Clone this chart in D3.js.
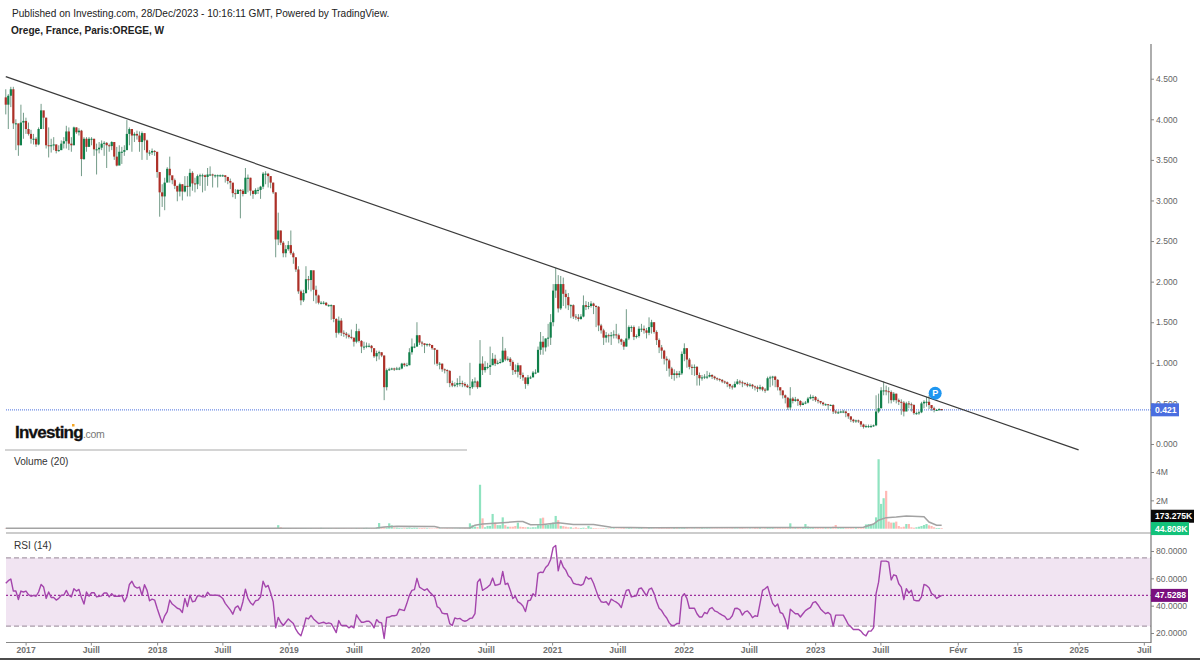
<!DOCTYPE html>
<html>
<head>
<meta charset="utf-8">
<title>Orege weekly</title>
<script src="https://d3js.org/d3.v7.min.js"></script>
<style>
html, body { margin: 0; padding: 0; background: #fff; }
svg { display: block; font-family: "Liberation Sans", Arial, sans-serif; }
.tick text { fill: #666; font-size: 8.6px; }
</style>
</head>
<body>
<svg id="chart" width="1200" height="660"></svg>
<script>
// weekly bars
var firstWeek = new Date( 2016, 10, 7 );
var firstOpen = 4.27;

var closes = [
	4.18,4.29,4.37,3.95,3.95,3.68,3.96,3.98,3.88,3.82,
	3.76,3.76,3.69,3.88,4.11,4.02,3.68,3.67,3.68,3.69,
	3.61,3.62,3.70,3.73,3.85,3.70,3.68,3.90,3.84,3.86,
	3.51,3.76,3.66,3.76,3.76,3.63,3.63,3.65,3.70,3.71,
	3.68,3.67,3.72,3.54,3.43,3.60,3.60,3.62,3.82,3.88,
	3.80,3.82,3.80,3.72,3.83,3.74,3.59,3.59,3.61,3.60,
	3.35,3.10,3.05,3.22,3.39,3.31,3.25,3.18,3.11,3.20,
	3.11,3.18,3.17,3.34,3.21,3.20,3.30,3.31,3.31,3.29,
	3.32,3.32,3.31,3.31,3.31,3.31,3.31,3.29,3.24,3.22,
	3.09,3.08,3.13,3.12,3.08,3.28,3.28,3.12,3.08,3.13,
	3.13,3.17,3.33,3.33,3.30,3.22,3.10,
	2.52,2.63,2.48,2.35,2.40,2.45,2.35,2.30,2.15,1.88,
	1.77,1.86,2.03,2.02,2.14,1.90,1.83,1.74,1.74,1.74,
	1.71,1.71,1.71,1.54,1.37,1.52,1.37,1.36,1.34,1.32,
	1.31,1.26,1.39,1.27,1.20,1.20,1.21,1.21,1.18,1.08,
	1.12,1.13,1.09,0.70,0.91,0.92,0.93,0.92,0.93,0.93,0.99,
	0.97,0.97,1.13,1.20,1.20,1.34,1.25,1.24,1.22,1.23,
	1.22,1.18,1.16,0.99,0.99,0.92,0.91,0.90,0.75,0.72,0.73,
	0.75,0.75,0.74,0.72,0.70,0.70,0.77,0.77,0.70,0.99,
	0.91,0.95,0.95,0.97,1.05,0.99,1.00,1.01,1.15,1.04,
	1.05,1.01,0.91,0.89,0.97,0.85,0.82,0.74,0.82,0.82,0.88,
	0.88,1.16,1.26,1.19,1.30,1.31,1.50,1.89,1.97,
	1.67,1.97,1.85,1.81,1.71,1.71,1.57,1.56,1.54,1.57,
	1.71,1.69,1.70,1.73,1.70,1.69,1.46,1.40,1.31,1.34,
	1.33,1.34,1.35,1.34,1.29,1.26,1.20,1.30,1.44,1.44,
	1.32,1.33,1.42,1.42,1.40,1.37,1.44,1.50,1.38,1.28,
	1.19,1.15,1.05,1.03,0.93,0.85,0.87,0.85,0.87,1.11,
	1.18,1.04,0.95,0.94,0.95,0.85,0.81,0.82,0.83,0.83,
	0.85,0.83,0.81,0.80,0.79,0.77,0.76,0.74,0.71,0.70,
	0.74,0.77,0.76,0.75,0.74,0.72,0.73,0.71,0.70,0.68,
	0.70,0.67,0.66,0.81,0.82,0.83,0.79,0.70,
	0.66,0.60,0.57,0.45,0.56,0.53,0.55,0.53,0.48,0.50,
	0.51,0.56,0.58,0.58,0.54,0.53,0.51,0.49,0.49,0.48,0.48,
	0.40,0.39,0.39,0.40,0.40,0.38,0.34,0.30,0.28,0.29,
	0.28,0.24,0.21,0.22,0.22,0.22,0.23,0.40,0.44,0.66,0.66,
	0.65,0.64,0.54,0.62,0.54,0.52,0.51,0.40,0.50,0.49,
	0.48,0.38,0.38,0.39,0.50,0.52,0.52,0.48,0.44,0.42,
	0.42,0.43,0.421
];

var highs = [
	4.37,4.31,4.40,4.40,4.00,3.82,4.18,4.08,4.02,3.96,
	3.87,3.82,3.78,3.90,4.19,4.08,4.02,3.90,3.76,3.78,
	3.69,3.68,3.74,3.78,3.92,3.90,3.78,3.91,3.90,3.89,
	3.87,3.78,3.78,3.78,3.78,3.76,3.70,3.72,3.74,3.73,
	3.72,3.70,3.73,3.71,3.66,3.68,3.66,3.68,3.99,3.90,
	3.88,3.84,3.86,3.85,3.85,3.76,3.75,3.62,3.64,3.62,
	3.58,3.32,3.20,3.28,3.41,3.54,3.28,3.27,3.18,3.22,
	3.20,3.30,3.30,3.39,3.36,3.28,3.32,3.33,3.33,3.32,
	3.40,3.42,3.33,3.32,3.32,3.32,3.32,3.31,3.29,3.27,
	3.20,3.14,3.14,3.14,3.14,3.40,3.32,3.28,3.12,3.15,
	3.16,3.18,3.35,3.36,3.34,3.30,3.22,
	3.10,2.85,2.63,2.50,2.45,2.50,2.63,2.37,2.30,2.19,
	1.90,1.90,2.19,2.07,2.14,2.05,1.95,1.84,1.76,1.76,
	1.75,1.72,1.72,1.71,1.55,1.57,1.55,1.40,1.38,1.36,
	1.41,1.31,1.48,1.42,1.28,1.26,1.25,1.24,1.22,1.18,
	1.15,1.15,1.13,1.09,0.93,0.94,0.94,0.94,0.95,0.95,1.00,
	1.00,1.00,1.18,1.30,1.24,1.50,1.34,1.27,1.24,1.24,
	1.24,1.22,1.18,1.16,1.01,0.99,0.93,0.92,0.91,0.78,0.76,
	0.81,0.84,0.78,0.76,0.74,1.00,0.80,0.82,0.78,1.28,
	1.08,1.02,1.00,1.20,1.12,1.10,1.03,1.05,1.32,1.18,
	1.08,1.07,1.03,0.98,1.00,0.95,0.88,0.82,0.85,0.84,0.90,
	0.92,1.20,1.38,1.33,1.30,1.48,1.60,1.97,2.17,
	2.08,2.07,2.05,1.90,1.86,1.72,1.72,1.60,1.60,1.60,
	1.83,1.76,1.75,1.76,1.74,1.71,1.70,1.48,1.42,1.38,
	1.36,1.38,1.40,1.48,1.36,1.30,1.28,1.66,1.46,1.46,
	1.46,1.35,1.45,1.48,1.46,1.43,1.56,1.53,1.50,1.40,
	1.30,1.22,1.16,1.08,1.05,0.95,0.92,0.90,0.90,1.14,
	1.24,1.18,1.06,0.98,0.98,0.96,0.88,0.85,0.86,0.90,
	0.88,0.86,0.84,0.82,0.81,0.80,0.78,0.77,0.74,0.73,
	0.77,0.80,0.79,0.78,0.76,0.76,0.75,0.74,0.72,0.72,
	0.73,0.71,0.69,0.83,0.84,0.84,0.84,0.80,
	0.68,0.66,0.61,0.58,0.70,0.58,0.58,0.56,0.54,0.52,
	0.53,0.58,0.61,0.60,0.59,0.56,0.53,0.52,0.50,0.49,0.49,
	0.49,0.42,0.41,0.41,0.42,0.41,0.38,0.34,0.31,0.30,
	0.30,0.28,0.25,0.24,0.24,0.24,0.24,0.60,0.62,0.70,0.77,
	0.72,0.70,0.66,0.64,0.62,0.56,0.55,0.53,0.52,0.53,
	0.51,0.49,0.40,0.41,0.52,0.54,0.58,0.60,0.48,0.46,
	0.43,0.44,0.43
];

var lows = [
	4.06,3.88,4.15,3.88,3.62,3.55,3.68,3.76,3.82,3.80,
	3.70,3.69,3.66,3.68,3.94,3.88,3.64,3.53,3.59,3.62,
	3.58,3.60,3.62,3.64,3.64,3.62,3.60,3.68,3.82,3.80,
	3.30,3.50,3.60,3.70,3.68,3.55,3.32,3.58,3.62,3.55,
	3.40,3.60,3.62,3.50,3.42,3.45,3.45,3.55,3.62,3.68,
	3.60,3.72,3.75,3.60,3.50,3.62,3.50,3.55,3.56,3.55,
	3.28,2.80,2.92,2.88,3.28,3.22,3.20,3.14,2.99,3.05,
	3.00,3.10,3.05,3.05,3.12,3.10,3.14,3.18,3.10,3.12,
	3.18,3.30,3.16,3.28,3.16,3.29,3.29,3.22,3.20,3.14,
	3.04,3.02,3.08,2.78,3.05,3.10,3.10,3.06,3.02,3.07,
	3.08,3.02,3.14,3.20,3.16,3.15,3.08,
	2.30,2.45,2.45,2.30,2.30,2.38,2.33,2.22,2.12,1.85,
	1.71,1.75,1.85,1.90,1.88,1.76,1.73,1.72,1.72,1.72,
	1.70,1.69,1.53,1.50,1.31,1.35,1.33,1.32,1.30,1.30,
	1.29,1.20,1.24,1.25,1.12,1.16,1.18,1.19,1.13,1.06,
	1.02,1.04,1.07,0.54,0.66,0.90,0.91,0.90,0.91,0.91,0.92,
	0.95,0.96,0.97,1.10,1.18,1.20,1.22,1.20,1.12,1.20,
	1.20,1.16,0.98,0.96,0.92,0.89,0.87,0.75,0.70,0.70,0.70,
	0.70,0.71,0.70,0.70,0.69,0.60,0.68,0.70,0.68,0.70,
	0.85,0.88,0.92,0.85,0.98,0.96,0.98,0.99,1.00,1.02,
	1.02,0.96,0.85,0.86,0.82,0.80,0.78,0.68,0.72,0.80,0.84,
	0.86,0.88,1.10,1.10,1.14,1.20,1.22,1.45,1.80,
	1.62,1.65,1.70,1.67,1.65,1.55,1.54,1.53,1.51,1.53,
	1.56,1.65,1.66,1.68,1.60,1.44,1.39,1.36,1.22,1.25,
	1.25,1.22,1.30,1.30,1.24,1.22,1.16,1.20,1.28,1.38,
	1.28,1.30,1.31,1.38,1.36,1.30,1.34,1.36,1.36,1.22,
	1.12,1.05,0.98,0.90,0.83,0.80,0.78,0.81,0.82,0.85,
	1.02,0.94,0.92,0.85,0.84,0.72,0.72,0.78,0.80,0.80,
	0.82,0.80,0.79,0.78,0.77,0.75,0.74,0.70,0.68,0.67,
	0.69,0.73,0.73,0.70,0.72,0.70,0.70,0.68,0.66,0.64,
	0.66,0.65,0.63,0.66,0.70,0.72,0.70,0.66,
	0.60,0.56,0.50,0.42,0.42,0.50,0.52,0.47,0.46,0.48,
	0.49,0.50,0.55,0.53,0.52,0.50,0.49,0.47,0.47,0.42,0.47,
	0.37,0.37,0.37,0.38,0.38,0.33,0.31,0.27,0.26,0.26,
	0.26,0.21,0.19,0.20,0.20,0.20,0.21,0.22,0.38,0.44,0.60,
	0.60,0.50,0.50,0.52,0.50,0.48,0.36,0.34,0.44,0.44,
	0.40,0.36,0.36,0.36,0.38,0.44,0.46,0.43,0.41,0.39,
	0.41,0.41,0.41
];

// weekly volume in millions
var volumes = [
	0.03,0.04,0.03,0.05,0.03,0.04,0.03,0.02,0.03,0.02,
	0.03,0.02,0.02,0.03,0.05,0.03,0.03,0.02,0.02,0.03,
	0.02,0.03,0.02,0.02,0.04,0.03,0.02,0.03,0.02,0.02,
	0.03,0.02,0.03,0.02,0.02,0.02,0.03,0.02,0.02,0.02,
	0.03,0.02,0.02,0.03,0.04,0.02,0.02,0.02,0.03,0.04,
	0.03,0.02,0.02,0.03,0.02,0.02,0.03,0.02,0.02,0.02,
	0.04,0.05,0.04,0.04,0.03,0.03,0.02,0.02,0.03,0.02,
	0.03,0.02,0.03,0.03,0.02,0.02,0.02,0.02,0.02,0.02,
	0.03,0.02,0.02,0.02,0.02,0.02,0.02,0.03,0.02,0.03,
	0.03,0.02,0.03,0.04,0.02,0.05,0.03,0.03,0.02,0.02,
	0.02,0.03,0.05,0.03,0.03,0.04,0.05,0.06,0.25,0.10,
	0.05,0.04,0.04,0.05,0.03,0.04,0.03,0.05,0.04,0.04,
	0.03,0.04,0.03,0.03,0.05,0.06,0.04,0.03,0.04,0.03,
	0.03,0.05,0.04,0.03,0.04,0.03,0.03,0.04,0.03,0.05,
	0.05,0.04,0.05,0.06,0.04,0.05,0.05,0.08,0.40,0.06,
	0.10,0.08,0.38,0.24,0.08,0.07,0.05,0.04,0.06,0.06,
	0.08,0.05,0.07,0.06,0.05,0.05,0.06,0.04,0.04,0.03,
	0.03,0.04,0.03,0.03,0.03,0.04,0.03,0.03,0.02,0.02,
	0.03,0.03,0.04,0.03,0.38,0.25,0.15,0.12,3.10,0.73,
	0.10,0.20,0.20,1.04,0.43,0.25,0.25,0.80,0.25,0.14,
	0.14,0.14,0.19,0.43,0.14,0.12,0.10,0.10,0.08,0.10,
	0.10,0.25,0.73,0.78,0.33,0.28,0.33,0.43,0.90,0.60,
	0.20,0.18,0.14,0.10,0.10,0.06,0.10,0.06,0.05,0.07,
	0.05,0.20,0.08,0.05,0.04,0.03,0.03,0.04,0.03,0.03,
	0.03,0.04,0.03,0.03,0.04,0.05,0.03,0.05,0.04,0.03,
	0.03,0.04,0.05,0.03,0.03,0.04,0.03,0.03,0.03,0.04,
	0.05,0.04,0.05,0.05,0.04,0.08,0.05,0.04,0.04,0.05,
	0.04,0.03,0.03,0.03,0.03,0.04,0.04,0.03,0.03,0.03,
	0.03,0.03,0.03,0.03,0.03,0.03,0.03,0.03,0.04,0.03,
	0.03,0.04,0.05,0.03,0.03,0.03,0.03,0.05,0.06,0.05,
	0.03,0.04,0.05,0.04,0.06,0.04,0.05,0.06,0.08,0.07,
	0.07,0.38,0.12,0.08,0.06,0.06,0.07,0.33,0.15,0.08,
	0.06,0.05,0.06,0.05,0.06,0.07,0.09,0.10,0.14,0.26,
	0.12,0.10,0.09,0.08,0.08,0.08,0.07,0.07,0.08,0.09,
	0.10,0.30,0.33,0.33,0.33,0.80,4.90,1.75,2.15,2.67,
	0.50,0.43,0.43,0.50,0.19,0.10,0.14,0.33,0.33,0.10,
	0.07,0.10,0.14,0.19,0.26,0.33,0.24,0.19,0.10,0.05,
	0.05,0.05
];

// grey 20-week average, only where it turns
var maWeeks  = [ 0, 100, 147, 150, 155, 170, 172, 184, 186, 189, 197, 203, 205, 208, 213, 219, 225, 233, 240, 255, 340, 344, 346, 349, 353, 357, 364, 366, 369, 371 ];
var maValues = [ 0.04, 0.04, 0.05, 0.12, 0.17, 0.16, 0.07, 0.05, 0.25, 0.33, 0.42, 0.50, 0.50, 0.28, 0.30, 0.42, 0.30, 0.30, 0.10, 0.06, 0.10, 0.33, 0.60, 0.78, 0.83, 0.90, 0.85, 0.47, 0.24, 0.24 ];

var rsi = [
	56.4,58.3,59.5,50.7,50.7,44.5,50.7,50.0,50.7,48.1,
	46.9,47.6,46.9,50.0,55.5,53.6,45.3,50.0,46.0,46.0,
	44.1,45.3,47.6,47.6,51.2,47.6,46.4,52.4,50.7,51.9,
	46.0,41.2,50.0,46.9,49.5,49.5,46.4,46.9,47.2,49.3,
	49.3,46.4,48.8,46.9,46.9,46.9,47.6,42.9,46.4,55.5,
	57.9,54.1,52.9,53.6,47.6,55.3,51.2,43.6,44.8,44.1,
	38.1,32.6,27.4,32.6,35.7,44.1,41.2,39.8,38.1,37.4,
	35.0,45.3,39.3,47.6,42.9,43.3,47.2,47.2,46.4,46.4,
	49.8,47.6,47.6,47.6,47.6,46.9,45.3,41.7,39.3,36.9,
	33.8,38.6,39.8,36.4,42.9,52.1,45.3,42.2,40.5,43.6,
	44.1,46.4,57.9,53.6,54.8,49.3,42.9,23.8,31.4,27.9,
	25.5,27.9,30.3,28.6,26.9,22.6,19.8,17.9,23.8,31.0,
	30.3,32.9,30.3,28.6,26.9,27.4,27.9,26.9,27.4,26.9,
	23.8,20.3,29.1,25.5,25.5,25.5,23.8,25.0,23.8,33.3,
	30.3,27.9,27.9,28.6,28.6,26.9,23.8,29.8,27.9,27.4,
	16.0,31.4,31.7,32.6,32.6,33.1,37.4,36.9,36.4,41.7,
	47.6,51.2,51.7,60.0,53.6,52.4,51.2,52.4,50.0,48.1,
	46.4,39.3,38.1,34.5,34.1,34.1,26.9,25.5,31.0,30.3,
	30.7,29.3,28.6,29.3,30.7,31.0,34.1,57.2,59.5,51.2,
	52.4,53.6,55.3,60.2,54.8,55.3,56.0,65.0,55.5,56.4,
	51.2,45.3,46.9,42.9,41.7,39.8,35.7,43.6,44.1,48.8,
	46.9,63.6,64.5,64.3,67.9,69.8,73.8,82.6,84.0,65.5,
	73.1,68.3,66.0,61.9,60.2,56.4,55.7,55.5,54.8,56.0,
	61.2,59.5,60.2,56.4,51.2,46.0,42.9,42.4,42.9,40.5,
	44.8,43.6,42.6,41.2,38.6,45.3,51.2,51.7,46.4,46.9,
	47.2,52.4,52.9,50.0,47.2,51.9,52.9,48.8,42.9,38.1,
	36.4,33.3,31.0,27.4,25.5,25.5,26.9,26.9,46.4,48.8,
	45.3,38.1,38.1,38.1,34.1,31.7,31.7,35.0,34.1,37.6,
	38.6,36.2,35.5,34.1,33.1,32.2,29.8,30.3,32.6,37.9,
	38.1,36.9,33.1,35.5,36.2,34.1,31.2,32.6,32.2,41.7,
	51.2,52.4,54.1,47.6,41.7,39.3,41.2,35.0,34.1,29.8,
	23.1,37.4,35.7,34.1,34.1,31.7,34.1,36.4,37.6,38.8,
	42.2,42.9,40.5,37.6,35.7,34.1,35.0,33.3,25.0,33.1,
	33.1,33.1,33.1,29.8,26.2,24.5,22.6,22.6,22.6,21.4,
	19.1,17.9,21.4,21.4,23.8,48.8,57.2,72.6,72.6,72.6,
	71.9,58.8,62.6,61.9,56.0,53.6,44.5,52.4,49.3,51.2,
	44.1,43.6,43.6,46.4,55.5,54.8,53.1,48.8,47.6,45.3,
	46.4,47.53
];

// axes
var xTickDates  = [ "2017-01-01", "2017-07-01", "2018-01-01", "2018-07-01", "2019-01-01", "2019-07-01", "2020-01-01", "2020-07-01", "2021-01-01", "2021-07-01", "2022-01-01", "2022-07-01", "2023-01-01", "2023-07-01", "2024-02-01", "2024-07-15", "2025-01-01", "2025-07-01" ];
var xTickLabels = [ "2017", "Juill", "2018", "Juill", "2019", "Juill", "2020", "Juill", "2021", "Juill", "2022", "Juill", "2023", "Juill", "Févr", "15", "2025", "Juil" ];
var priceTicks  = [ 0, 0.5, 1, 1.5, 2, 2.5, 3, 3.5, 4, 4.5 ];
var volumeTicks = [ 2, 4 ];
var rsiTicks    = [ 20, 40, 60, 80 ];

// trend line drawn on the chart
var trendDates  = [ "2016-11-07", "2025-01-01" ];
var trendPrices = [ 4.525, -0.072 ];

var lastPrice = 0.421;
var lastRsi = 47.5288;
var volumeMaLast = 0.173275;
var volumeLast = 0.044808;
var rsiLevels = [ 75, 25 ];
var markerDate = "2023-11-30";
var markerPrice = 0.49;

var p = {
	left: 6,
	right: 1151,
	colors: {
		up: "#10804a",
		down: "#ad2f27",
		upVol: "#8fe3c0",
		downVol: "#ffb9b5",
		wick: "#4f8269",
		text: "#666"
	}
};

var parseDay = d3.timeParse( "%Y-%m-%d" );
var weeks = closes.map( function( c, i ) { return d3.timeWeek.offset( firstWeek, i ); } );

var bars = closes.map( function( c, i ) {
	var open = i ? closes[ i - 1 ] : firstOpen;
	return { date: weeks[ i ], open: open, close: c, high: highs[ i ], low: lows[ i ], volume: volumes[ i ], rsi: rsi[ i ], up: c >= open };
} );

var x = d3.scaleTime().domain( [ parseDay( "2017-01-01" ), parseDay( "2025-01-01" ) ] ).range( [ 25.6, 1078.6 ] );
var y = d3.scaleLinear().domain( [ 0, 4.5 ] ).range( [ 444, 78.7 ] );
var yVol = d3.scaleLinear().domain( [ 0, 4 ] ).range( [ 528.7, 472 ] );
var yRsi = d3.scaleLinear().domain( [ 20, 80 ] ).range( [ 633, 551 ] );

var svg = d3.select( "#chart" );

// header
svg.append( "text" ).attr( "x", 12 ).attr( "y", 17 ).attr( "font-size", 10.1 ).attr( "fill", "#222" )
	.text( "Published on Investing.com, 28/Dec/2023 - 10:16:11 GMT, Powered by TradingView." );
svg.append( "text" ).attr( "x", 11 ).attr( "y", 34 ).attr( "font-size", 10.1 ).attr( "font-weight", "bold" ).attr( "fill", "#222" )
	.text( "Orege, France, Paris:OREGE, W" );

// rsi pane
svg.append( "rect" ).attr( "x", p.left ).attr( "width", p.right - p.left )
	.attr( "y", yRsi( 75 ) ).attr( "height", yRsi( 25 ) - yRsi( 75 ) ).attr( "fill", "#f1e4f2" );

svg.selectAll( ".rsi-level" ).data( rsiLevels ).join( "line" )
	.attr( "x1", p.left ).attr( "x2", p.right )
	.attr( "y1", yRsi ).attr( "y2", yRsi )
	.attr( "stroke", "#a99ca9" ).attr( "stroke-width", 1.2 ).attr( "stroke-dasharray", "5 3" );

svg.append( "line" ).attr( "x1", p.left ).attr( "x2", p.right )
	.attr( "y1", yRsi( lastRsi ) ).attr( "y2", yRsi( lastRsi ) )
	.attr( "stroke", "#9c2f9c" ).attr( "stroke-width", 1.2 ).attr( "stroke-dasharray", "2 2" );

svg.append( "path" ).datum( bars )
	.attr( "fill", "none" ).attr( "stroke", "#a445ac" ).attr( "stroke-width", 1.4 ).attr( "stroke-linejoin", "round" )
	.attr( "d", d3.line().x( function( d ) { return x( d.date ); } ).y( function( d ) { return yRsi( d.rsi ); } ) );

// volume pane
svg.selectAll( ".vol" ).data( bars ).join( "rect" )
	.attr( "class", "vol" )
	.attr( "x", function( d ) { return x( d.date ) - 1.1; } )
	.attr( "width", 2.2 )
	.attr( "y", function( d ) { return yVol( d.volume ); } )
	.attr( "height", function( d ) { return yVol( 0 ) - yVol( d.volume ); } )
	.attr( "fill", function( d ) { return d.up ? p.colors.upVol : p.colors.downVol; } );

svg.append( "path" ).datum( maWeeks )
	.attr( "fill", "none" ).attr( "stroke", "#a3a3a3" ).attr( "stroke-width", 1.5 )
	.attr( "d", d3.line()
		.x( function( w ) { return x( weeks[ w ] ); } )
		.y( function( w, i ) { return yVol( maValues[ i ] ); } ) );

// price pane
svg.append( "line" ).attr( "x1", p.left ).attr( "x2", p.right )
	.attr( "y1", y( lastPrice ) ).attr( "y2", y( lastPrice ) )
	.attr( "stroke", "#6d8ce6" ).attr( "stroke-width", 1.2 ).attr( "stroke-dasharray", "1 1" );

var candle = svg.selectAll( ".candle" ).data( bars ).join( "g" ).attr( "class", "candle" );

candle.append( "line" )
	.attr( "x1", function( d ) { return x( d.date ); } ).attr( "x2", function( d ) { return x( d.date ); } )
	.attr( "y1", function( d ) { return y( d.high ); } ).attr( "y2", function( d ) { return y( d.low ); } )
	.attr( "stroke", p.colors.wick ).attr( "stroke-width", 0.8 );

candle.append( "rect" )
	.attr( "x", function( d ) { return x( d.date ) - 1.1; } )
	.attr( "width", 2.2 )
	.attr( "y", function( d ) { return y( Math.max( d.open, d.close ) ); } )
	.attr( "height", function( d ) { return Math.max( 1, Math.abs( y( d.open ) - y( d.close ) ) ); } )
	.attr( "fill", function( d ) { return d.up ? p.colors.up : p.colors.down; } );

svg.append( "line" )
	.attr( "x1", x( parseDay( trendDates[ 0 ] ) ) ).attr( "y1", y( trendPrices[ 0 ] ) )
	.attr( "x2", x( parseDay( trendDates[ 1 ] ) ) ).attr( "y2", y( trendPrices[ 1 ] ) )
	.attr( "stroke", "#3a3a3a" ).attr( "stroke-width", 1.2 );

// publish marker
var marker = svg.append( "g" ).attr( "transform", "translate(" + x( parseDay( markerDate ) ) + "," + ( y( markerPrice ) - 11 ) + ")" );
marker.append( "circle" ).attr( "r", 6.5 ).attr( "fill", "#1e96f0" );
marker.append( "text" ).attr( "text-anchor", "middle" ).attr( "y", 3.2 ).attr( "font-size", 9 ).attr( "font-weight", "bold" ).attr( "fill", "#fff" ).text( "P" );

// logo
var logo = svg.append( "text" ).attr( "x", 15 ).attr( "y", 438 );
logo.append( "tspan" ).attr( "font-size", 17 ).attr( "font-weight", "bold" ).attr( "letter-spacing", -0.75 ).attr( "fill", "#111" ).attr( "stroke", "#111" ).attr( "stroke-width", 0.3 ).text( "Investing" );
logo.append( "tspan" ).attr( "font-size", 10.5 ).attr( "letter-spacing", -0.3 ).attr( "fill", "#777" ).text( ".com" );
svg.append( "rect" ).attr( "x", 72 ).attr( "y", 424 ).attr( "width", 2.5 ).attr( "height", 2.5 ).attr( "fill", "#f5a623" );

// separators
svg.append( "line" ).attr( "x1", p.left - 1 ).attr( "x2", 467 ).attr( "y1", 450 ).attr( "y2", 450 ).attr( "stroke", "#aaa" ).attr( "stroke-width", 1.2 );
svg.append( "line" ).attr( "x1", p.left ).attr( "x2", p.right ).attr( "y1", 533 ).attr( "y2", 533 ).attr( "stroke", "#999" ).attr( "stroke-width", 1.2 );
svg.append( "line" ).attr( "x1", 0 ).attr( "x2", 1200 ).attr( "y1", 659 ).attr( "y2", 659 ).attr( "stroke", "#111" ).attr( "stroke-width", 1.5 );

svg.append( "text" ).attr( "x", 14 ).attr( "y", 465 ).attr( "font-size", 10.1 ).attr( "fill", "#333" ).text( "Volume (20)" );
svg.append( "text" ).attr( "x", 14 ).attr( "y", 549 ).attr( "font-size", 10.1 ).attr( "fill", "#333" ).text( "RSI (14)" );

// axes
function rightAxis( scale, ticks, format ) {
	var g = svg.append( "g" ).attr( "transform", "translate(" + p.right + ",0)" )
		.call( d3.axisRight( scale ).tickValues( ticks ).tickFormat( format ).tickSize( 3 ).tickPadding( 2 ) );
	g.select( ".domain" ).remove();
	g.selectAll( ".tick line" ).attr( "stroke", "#888" );
	return g;
}

rightAxis( y, priceTicks, d3.format( ".3f" ) );
rightAxis( yVol, volumeTicks, function( d ) { return d + "M"; } );
rightAxis( yRsi, rsiTicks, d3.format( ".4f" ) );

var xAxis = svg.append( "g" ).attr( "transform", "translate(0,642.5)" )
	.call( d3.axisBottom( x )
		.tickValues( xTickDates.map( parseDay ) )
		.tickFormat( function( d, i ) { return xTickLabels[ i ]; } )
		.tickSize( 3 ).tickPadding( 1 ) );
xAxis.select( ".domain" ).remove();
xAxis.selectAll( ".tick line" ).attr( "stroke", "#888" );
xAxis.selectAll( "text" ).attr( "font-weight", "bold" ).style( "fill", "#707070" );

svg.append( "line" ).attr( "x1", p.left ).attr( "x2", p.right ).attr( "y1", 642.5 ).attr( "y2", 642.5 ).attr( "stroke", "#888" ).attr( "stroke-width", 1.2 );
svg.append( "line" ).attr( "x1", p.right ).attr( "x2", p.right ).attr( "y1", 44 ).attr( "y2", 643 ).attr( "stroke", "#777" ).attr( "stroke-width", 1.2 );

// last value tags on the price scale
function tag( yPos, width, fill, label ) {
	svg.append( "rect" ).attr( "x", p.right ).attr( "y", yPos - 6.5 ).attr( "width", width ).attr( "height", 13 ).attr( "fill", fill );
	svg.append( "text" ).attr( "x", p.right + 4 ).attr( "y", yPos + 3.1 ).attr( "font-size", 8.6 ).attr( "font-weight", "bold" ).attr( "fill", "#fff" ).text( label );
}

tag( y( lastPrice ), 28, "#4a6ee0", lastPrice.toFixed( 3 ) );
// the average's tag sits above the volume tag so the two stay apart
tag( yVol( volumeMaLast ) - 10, 43, "#0a0a0a", ( volumeMaLast * 1000 ).toFixed( 3 ) + "K" );
tag( yVol( volumeLast ) + 0.5, 38, "#12c27a", ( volumeLast * 1000 ).toFixed( 3 ) + "K" );
tag( yRsi( lastRsi ), 37, "#7a0f7e", lastRsi.toFixed( 4 ) );
</script>
</body>
</html>
